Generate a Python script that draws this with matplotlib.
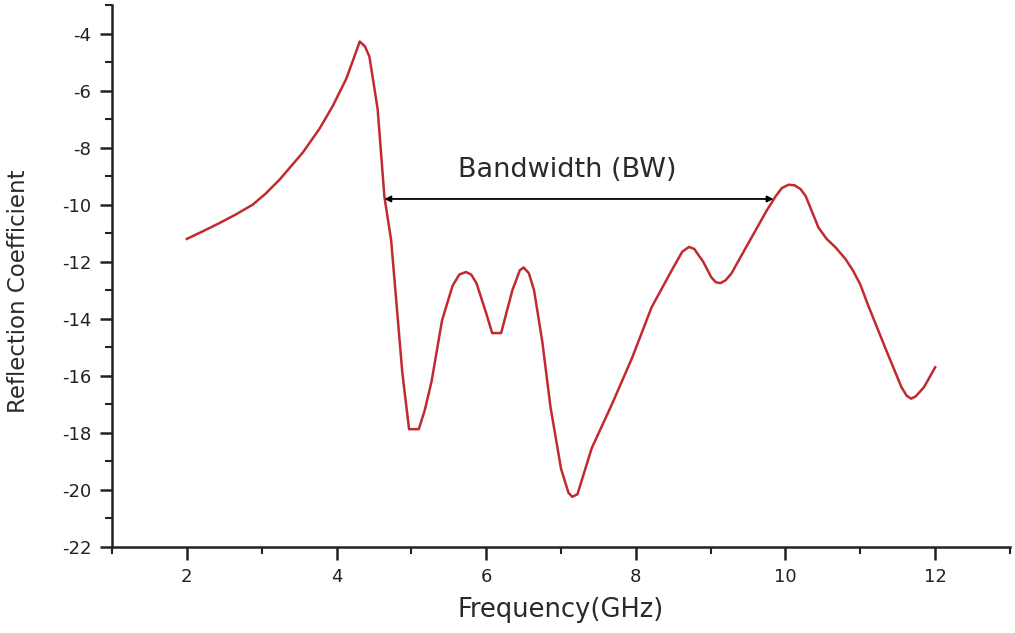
import matplotlib
matplotlib.use('Agg')
import matplotlib.pyplot as plt
from matplotlib.ticker import MultipleLocator

# --- dados ---
freq = [2.0, 2.2, 2.44, 2.65, 2.88, 3.05, 3.24, 3.55, 3.77, 3.95, 4.13, 4.24, 4.31, 4.38, 4.44,
        4.55, 4.64, 4.73, 4.88, 4.97, 5.1, 5.18, 5.27, 5.41, 5.55, 5.64, 5.73,
        5.8, 5.87, 6.0, 6.08, 6.2, 6.35, 6.45, 6.5, 6.57, 6.64, 6.75, 6.86,
        7.0, 7.1, 7.15, 7.22, 7.41, 7.68, 7.95, 8.21, 8.48, 8.62, 8.71, 8.78,
        8.9, 9.01, 9.07, 9.13, 9.2, 9.28, 9.45, 9.6, 9.75, 9.87, 9.95, 10.04,
        10.12, 10.2, 10.27, 10.44, 10.55, 10.67, 10.8, 10.9, 11.0, 11.1, 11.33,
        11.55, 11.62, 11.68, 11.74, 11.85, 12.0]
refl = [-11.2, -10.95, -10.64, -10.35, -10.0, -9.62, -9.12, -8.17, -7.35, -6.54, -5.59, -4.8, -4.28, -4.45, -4.81,
        -6.65, -9.72, -11.24, -15.9, -17.87, -17.87, -17.2, -16.2, -14.06, -12.85, -12.45, -12.36,
        -12.45, -12.75, -13.8, -14.5, -14.5, -13.0, -12.3, -12.2, -12.4, -13.0, -14.8, -17.1,
        -19.25, -20.1, -20.24, -20.15, -18.54, -17.0, -15.37, -13.6, -12.3, -11.65, -11.48, -11.55,
        -12.0, -12.55, -12.72, -12.75, -12.65, -12.4, -11.6, -10.9, -10.2, -9.7, -9.42, -9.3,
        -9.32, -9.45, -9.7, -10.8, -11.2, -11.5, -11.9, -12.3, -12.8, -13.5, -15.0,
        -16.4, -16.7, -16.8, -16.72, -16.4, -15.7]

bw_inicio = 4.64
bw_fim = 9.84
bw_nivel = -9.8

plt.rcParams['font.family'] = ['DejaVu Sans']
plt.rcParams['axes.unicode_minus'] = False

fig = plt.figure(figsize=(10.15, 6.33), dpi=100)
ax = fig.add_axes([112 / 1015, 86 / 633, 898 / 1015, 542 / 633])

ax.plot(freq, refl, color='#c02a30', linewidth=1.8)

# seta da banda
ax.annotate('', xy=(bw_inicio, bw_nivel), xytext=(bw_fim, bw_nivel),
            arrowprops=dict(arrowstyle='<|-|>', color='black', lw=1.3,
                            mutation_scale=9, shrinkA=0, shrinkB=0))
ax.text(7.08, bw_nivel + 0.55, 'Bandwidth (BW)',
        ha='center', va='bottom', fontsize=19.5, color='#2a2a2a')

ax.set_xlim(1, 13)
ax.set_ylim(-22, -3)
ax.xaxis.set_minor_locator(MultipleLocator(1))
ax.yaxis.set_minor_locator(MultipleLocator(1))
ax.set_xticks([2, 4, 6, 8, 10, 12])
ax.set_yticks(range(-22, -3, 2))

for lado in ['top', 'right']:
    ax.spines[lado].set_visible(False)
for lado in ['left', 'bottom']:
    ax.spines[lado].set_linewidth(1.8)
    ax.spines[lado].set_color('#222222')

ax.tick_params(which='major', direction='out', length=9, width=1.8,
               labelsize=13, colors='#222222', pad=6)
ax.tick_params(which='minor', direction='out', length=5, width=1.5, colors='#222222')

ax.set_xlabel('Frequency(GHz)', fontsize=18.5, color='#2a2a2a', labelpad=8)
ax.set_ylabel('Reflection Coefficient', fontsize=16.5, color='#2a2a2a')
ax.yaxis.set_label_coords(-0.091, 0.472)

plt.savefig('out.png', dpi=100)
